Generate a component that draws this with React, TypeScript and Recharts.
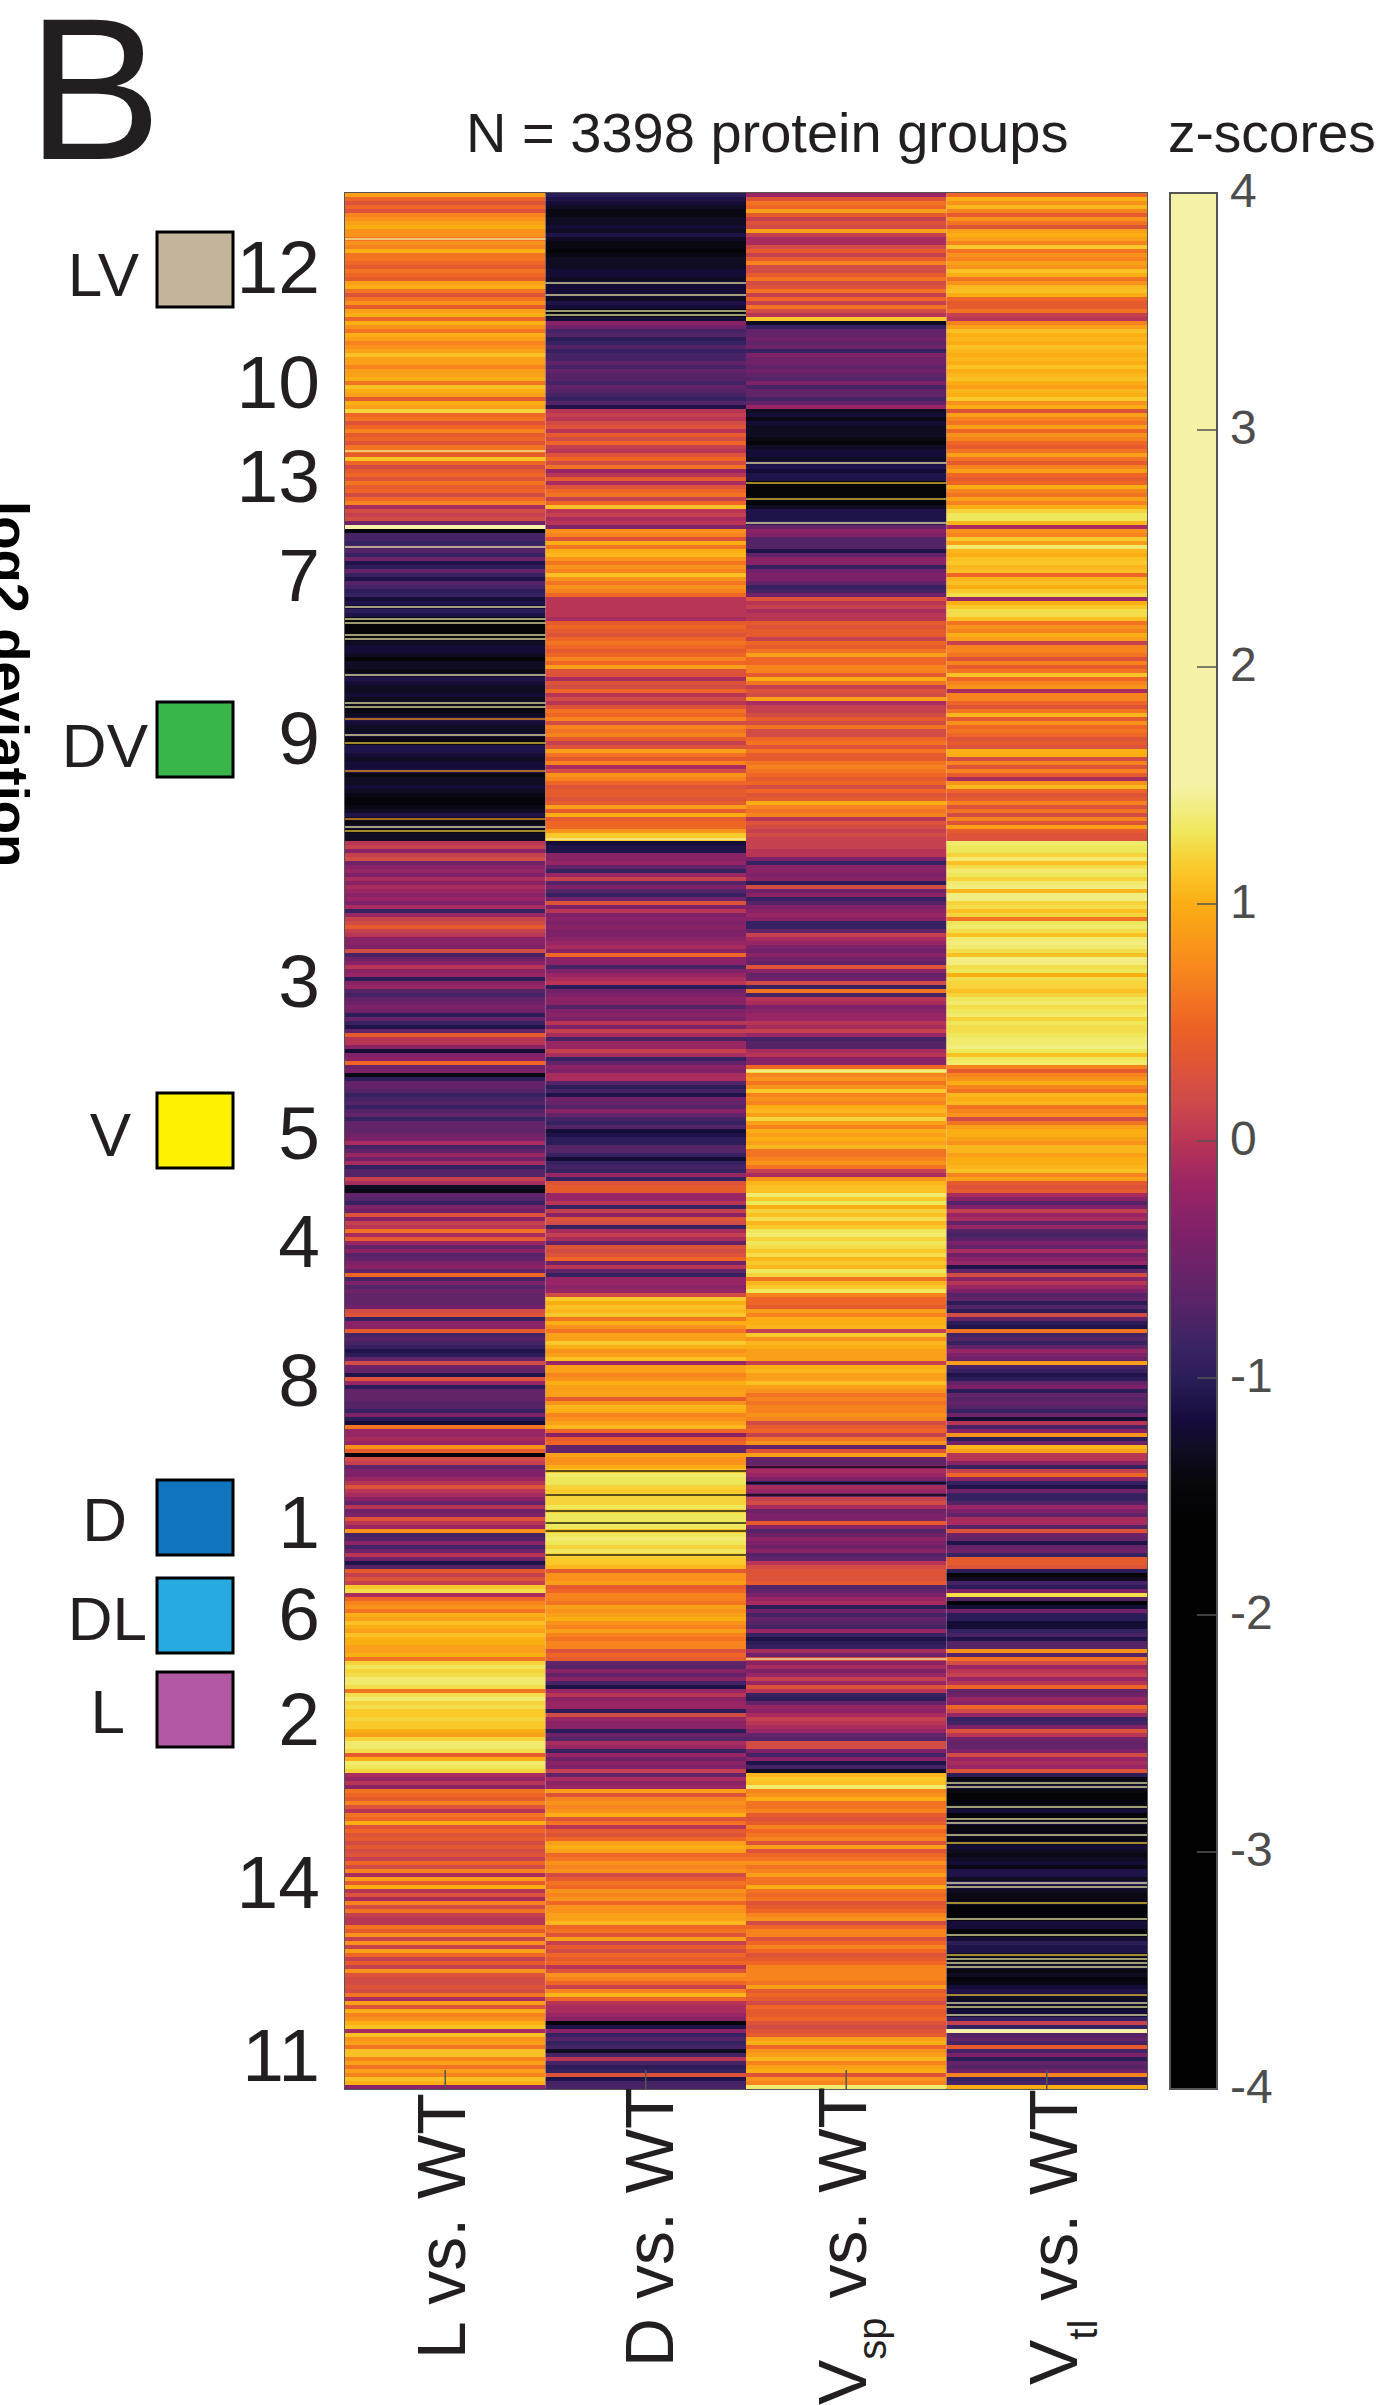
import { BarChart, Bar, Cell, XAxis, YAxis, ReferenceArea, ReferenceLine } from 'recharts';

const FONT = "'Liberation Sans', Arial, sans-serif";
const INK = '#231f20';
const AXIS = '#555555';

// cluster order top to bottom; each inner array below is one cluster (one row = about 7 protein groups)
const clusterIds = [12, 10, 13, 7, 9, 3, 5, 4, 8, 1, 6, 2, 14, 11];

const lVsWt = [
  [0.9,0.5,0.3,0.5,0.3,0.7,0.8,0.9,1.0,0.8,0.8,0.6,0.8,0.7,1.0,0.6,0.6,0.5,0.4,0.6,0.5,0.4,0.9,1.0,0.6,0.3,0.6,0.8,0.4,0.9,1.0,0.5],
  [1.0,0.8,0.6,1.0,0.9,0.7,0.8,0.9,1.1,0.9,0.9,0.7,0.9,0.9,1.0,0.6,1.1,1.0,0.9,0.4,1.0,0.9],
  [1.2,0.5,0.6,0.3,0.5,0.7,0.4,0.5,0.3,0.6,0.6,0.4,1.1,0.5,0.2,0.4,0.5,0.3,0.6,0.4,0.5,0.2,0.5,0.7,-0.1,0.2,0.1,0.2,-0.5,1.5],
  [-1.5,-0.8,-0.8,-0.9,-0.8,-0.7,-0.9,-0.5,-1.1,-1.0,-0.6,-0.9,-1.1,-0.7,-0.8,-1.0,-0.9],
  [-1.2,-1.1,-1.2,-1.0,-1.1,-1.4,-1.5,-1.5,-1.5,-1.4,-1.4,-1.3,-1.2,-1.2,-1.3,-1.5,-1.3,-1.3,-1.4,-1.2,-1.1,-1.2,-1.3,-1.3,-1.2,-1.3,-1.3,-1.4,-1.4,-1.3,-1.1,-1.2,-1.3,-1.3,-1.2,-1.4,-1.4,-1.1,-1.1,-1.2,-1.3,-1.2,-1.2,-1.1,-1.4,-1.3,-1.3,-1.2,-1.3,-1.4,-1.5,-1.5,-1.4,-1.3,-1.1,-1.3,-1.4,-1.2,-1.4,-1.3,-1.3],
  [0.0,0.1,-0.3,0.1,0.2,-0.5,-0.3,-0.2,-0.4,-0.1,-0.3,-0.1,-0.2,-0.3,-0.2,-0.4,-0.1,-0.9,-0.2,0.1,0.2,0.4,0.1,0.0,-0.3,-0.3,-0.4,0.2,-0.8,-0.5,-0.3,0.0,-0.3,-0.2,-1.0,-0.3,-0.2,-0.7,-0.8,-0.6,-0.5,-0.4,-0.5,-1.0,-0.6,-0.9,-1.1,-0.6,0.4,0.0,0.0,-0.3,-1.2,-0.4,-0.3,0.5,-0.5,-0.4],
  [-1.4,-1.0,-0.6,-0.6,-0.7,-0.9,-0.8,-0.7,-0.9,-0.7,-0.6,-0.9,-0.6,-0.6,-0.6,-0.5,-0.4,-0.1,-0.8,-0.6,-0.2,-0.5,-0.1,-0.9,-0.7,-0.7,0.1,-0.1,-1.3,-1.4],
  [-0.6,-0.7,-0.9,-0.4,-0.5,0.3,-0.3,0.1,0.0,0.6,-0.1,0.4,-0.2,-0.6,-0.3,-0.7,-0.6,-0.4,-0.3,-0.6,0.5,-0.8,-0.4,-0.7,-0.5,-0.6],
  [-0.6,-0.6,-0.5,0.2,0.3,-0.9,-0.3,-0.3,0.4,-0.8,-0.7,-0.8,-0.9,-1.1,-1.0,-0.6,0.2,-0.5,-0.6,-1.1,0.3,-0.2,-1.0,-0.6,-0.6,-0.6,-0.7,-0.7,-0.9,-0.4,-1.0,-1.2,0.6,-0.2,-0.2,-0.1,-0.2,0.8,0.4,-1.5],
  [0.2,0.1,-0.6,-0.4,-0.4,-0.2,0.0,0.3,0.0,-0.1,-0.3,-0.6,0.0,-0.5,-0.4,0.3,0.0,-0.2,0.8,-0.8,-0.7,-0.3,-0.8,-0.5,0.0,-0.5,-1.1,-0.7,0.4,0.1,0.3,0.1],
  [1.15,1.25,-0.1,0.5,0.7,0.8,0.6,1.0,0.9,1.1,1.0,0.9,1.1,1.0,1.0,0.9,0.9,1.0,0.6],
  [1.2,1.3,1.2,1.25,1.35,1.35,1.25,0.6,1.25,1.35,1.2,1.25,1.15,1.15,1.2,1.15,1.15,1.0,0.9,1.2,1.35,1.35,1.25,0.4,1.0,1.35,1.3,1.2],
  [-0.1,-0.2,0.0,-0.3,0.6,0.5,0.4,0.7,0.3,0.0,0.6,0.5,1.0,0.3,0.5,0.3,0.4,0.2,0.4,0.2,0.3,0.1,0.5,0.2,0.7,-0.1,0.9,0.4,1.0,0.0,0.3,-0.1,0.7,0.2,0.6,0.1,0.0,0.0,0.6,0.4,0.8,0.1,0.8,0.1,0.9,0.5,0.1,0.4,0.1,0.8,0.3,0.2,0.2,0.3,0.2,0.6,-0.1,0.9,0.3,1.0,0.7,0.8,1.0,1.1],
  [-0.1,1.1,0.8,0.9,0.6,1.1,1.1,0.7,0.9,0.6,0.9,0.7,1.1,1.0,-0.3],
];

const dVsWt = [
  [-1.0,-1.1,-1.2,-1.3,-1.4,-1.4,-1.3,-1.3,-1.2,-1.3,-1.1,-1.3,-1.4,-1.4,-1.5,-1.4,-1.3,-1.3,-1.3,-1.2,-1.2,-1.3,-1.2,-1.2,-1.2,-1.2,-1.3,-1.1,-1.2,-1.5,-1.4,-1.2],
  [-0.3,-0.5,-0.8,-0.7,-1.0,-0.9,-0.7,-0.9,-0.8,-0.8,-0.6,-0.8,-0.6,-0.7,-0.7,-0.8,-0.6,-0.7,-0.8,-0.9,-0.7,-1.1],
  [0.0,0.1,0.0,0.2,0.3,0.0,0.4,0.2,0.5,0.1,0.0,0.3,0.5,0.2,0.6,-0.2,0.0,0.4,-0.1,0.3,0.5,0.6,0.1,0.5,1.1,0.0,0.1,-0.1,0.0,-0.4],
  [0.8,0.7,0.3,1.0,0.6,1.0,1.05,0.8,0.6,0.8,0.7,1.1,0.8,0.6,0.8,0.7,0.5],
  [0.0,0.0,0.0,0.0,0.0,-0.1,0.4,0.5,0.4,0.3,0.5,0.6,0.5,0.4,0.5,0.7,0.5,0.9,0.3,0.3,-0.1,0.3,0.2,0.5,0.0,0.2,0.0,0.3,0.6,0.5,0.7,0.2,0.7,0.6,0.7,0.4,0.1,0.3,0.9,0.6,0.4,0.7,-0.1,0.2,0.8,0.7,0.5,0.3,0.4,0.4,0.3,0.4,0.9,0.4,1.0,0.4,0.5,0.5,0.8,1.15,1.15],
  [-1.2,-1.1,-1.1,-0.3,-0.3,-0.2,-0.6,-0.9,-0.2,0.1,-0.7,-0.4,-0.7,-0.9,-0.5,0.3,-0.4,0.0,-0.4,-0.3,-0.4,-0.3,-0.4,-0.4,-0.3,-0.2,-0.1,-0.3,0.5,-0.3,-0.3,-0.8,-0.4,-0.2,-0.1,0.0,-1.0,-0.5,-0.4,-0.3,-0.3,-0.7,-0.4,-0.3,-0.4,0.0,-0.4,0.1,-0.1,-0.8,-0.2,-0.2,0.1,-0.1,-0.9,-0.6,-0.3,-0.4],
  [-0.1,-0.1,-0.7,-1.0,-0.8,-1.1,-0.5,-0.6,-0.7,-0.3,-0.6,-0.8,-0.9,-0.7,-1.2,-1.1,-1.0,-1.0,-0.7,-0.7,-0.9,-1.2,-0.9,-0.8,-0.9,-0.2,-0.9,0.3,0.4,0.4],
  [-0.2,-0.2,0.0,-0.9,0.1,-0.3,0.3,0.2,-0.9,-0.1,0.1,-0.1,-0.6,0.3,0.2,0.3,0.5,-0.5,0.0,-0.6,-0.9,-0.2,-0.2,-0.3,-0.2,0.2],
  [1.15,1.0,1.1,1.05,1.15,0.6,1.0,0.8,0.6,0.9,0.9,1.15,1.0,0.8,0.9,1.1,-0.2,0.9,0.9,0.7,0.8,1.0,0.9,0.9,0.9,0.4,0.8,1.05,1.0,0.7,0.8,0.9,1.05,0.5,-0.3,0.4,0.5,-0.6,-0.6,0.9],
  [0.8,0.8,1.0,1.15,1.35,1.3,1.3,1.2,1.15,1.2,1.2,1.2,1.3,1.2,1.3,1.3,1.3,1.3,1.15,1.3,1.35,1.3,1.2,1.3,1.2,1.15,1.15,1.05,0.4,0.8,0.8,0.9],
  [0.4,0.5,0.7,0.7,0.6,0.9,0.8,0.9,1.0,0.8,0.7,0.9,0.7,0.6,0.7,0.7,0.3,0.5,0.4],
  [-0.6,-0.7,-0.3,-0.6,-0.3,-0.8,-1.1,-0.2,0.0,-0.3,-0.2,-0.2,-1.0,0.2,-0.2,-0.3,-0.3,-1.0,-0.5,-0.7,-0.1,-0.2,-0.9,-0.2,-0.5,-0.3,-0.4,0.1],
  [-0.6,-0.1,-0.3,-0.2,0.9,0.3,0.7,0.8,0.7,0.8,1.0,0.3,0.6,0.0,0.4,0.3,0.5,0.9,1.0,0.9,0.5,0.6,0.8,0.7,0.8,0.2,0.4,0.6,0.5,0.8,0.7,0.8,0.5,0.8,0.8,0.9,0.9,1.05,0.5,0.6,0.3,0.9,0.1,0.4,0.2,0.5,0.4,0.5,0.0,0.3,0.8,0.7,0.5,0.1,0.7,1.05,0.5,0.0,-0.1,-0.1,-0.2,-0.3,-1.5,-1.1],
  [-0.3,-0.9,-0.7,-0.9,-0.8,-1.3,-0.8,0.0,-0.8,-1.0,-0.9,0.3,-1.1,-0.8,-0.8],
];

const vspVsWt = [
  [-0.2,0.3,0.6,0.5,0.9,0.4,0.1,0.3,0.2,0.9,0.1,-0.1,-0.1,0.2,0.4,0.1,0.4,0.7,0.2,0.2,0.4,0.6,0.2,0.3,0.6,0.1,0.5,0.1,0.6,0.2,0.0,1.15],
  [-1.3,-0.9,-0.6,-0.6,-0.5,-0.6,-0.5,-0.9,-0.4,-0.5,-0.5,-0.6,-0.5,-0.6,-0.7,-0.4,-0.8,-0.6,-0.6,-0.8,-0.6,-0.2],
  [-1.3,-1.2,-1.4,-1.2,-1.3,-1.3,-1.3,-1.4,-1.5,-1.3,-1.2,-1.2,-1.3,-1.1,-1.1,-1.2,-1.1,-1.1,-1.5,-1.5,-1.5,-1.5,-1.4,-1.5,-1.3,-1.1,-1.1,-1.1,-1.0,-0.6],
  [-0.3,-0.4,-0.7,-0.7,-0.7,-1.1,-0.6,-0.3,-0.3,-0.9,-0.5,-0.4,-0.4,-0.6,-0.9,-0.8,-0.5],
  [0.3,0.0,0.1,-0.1,0.0,0.0,0.4,0.3,0.4,0.4,0.1,0.5,0.4,0.6,0.9,0.5,0.5,0.7,0.7,0.4,1.0,0.6,0.1,0.3,0.2,0.9,-0.1,0.1,0.1,0.2,0.4,0.2,0.6,0.2,0.2,0.5,0.6,0.3,0.6,0.4,0.4,0.6,0.7,0.6,0.5,0.4,0.5,0.2,0.5,0.3,0.4,1.0,0.7,0.6,0.7,0.0,0.3,0.2,0.1,0.2,0.1],
  [0.1,0.1,0.0,0.0,-0.4,-0.9,-0.3,-0.3,-0.4,-0.3,-1.0,0.2,-0.5,-0.3,-0.9,-0.7,-0.4,-0.3,-0.2,-0.3,-0.9,-0.9,-0.6,0.1,-0.1,-0.2,-0.4,-0.5,-0.3,-0.5,-0.6,0.3,-0.3,-0.6,-0.5,0.2,-0.9,0.6,-0.8,0.0,-0.1,-0.4,-0.3,-0.2,-0.2,0.0,-0.1,0.1,-0.2,-0.8,-0.7,-0.7,-0.1,0.0,-0.3,-0.3,0.5,1.25],
  [0.7,0.8,0.6,0.8,1.15,0.7,0.8,0.7,1.0,1.05,0.9,1.2,0.9,0.7,1.0,0.9,1.0,0.9,1.05,0.6,0.6,0.7,0.8,0.6,0.1,-0.1,0.8,1.05,1.1,1.1],
  [1.35,1.15,1.3,1.0,1.2,1.1,1.25,1.05,1.15,1.3,1.35,1.2,1.3,1.25,1.15,1.25,1.05,1.15,1.05,1.3,1.2,0.6,1.05,1.15,1.3,0.7],
  [0.5,0.5,0.4,0.9,0.7,1.0,1.0,1.05,0.1,1.15,0.8,1.05,1.0,0.9,0.9,0.9,0.1,1.0,1.05,0.9,0.9,1.1,0.9,0.8,0.6,0.7,0.6,0.7,0.7,0.8,0.7,0.2,0.4,0.5,0.1,0.6,0.8,-0.6,0.3,0.9],
  [-0.6,-0.6,-0.4,-0.1,-0.2,-0.4,-0.9,-0.1,-0.2,-0.6,0.1,0.2,-0.1,-0.5,-0.4,-0.4,0.4,-0.3,-0.7,-0.5,-0.3,-0.4,-0.5,-0.3,-0.7,-0.6,0.0,0.2,0.3,0.3,0.3,0.4],
  [-0.7,-0.6,-0.4,-0.2,-0.1,-1.0,-0.5,-0.8,-0.6,-0.7,-0.8,-0.2,-0.9,-1.1,-1.0,-0.9,-0.1,-0.5,0.2],
  [-0.3,-0.1,-0.4,-0.2,0.1,-0.2,0.3,0.0,-0.9,-1.0,-0.6,-0.2,-0.3,-0.1,0.1,0.0,-0.1,-0.2,-0.6,-0.7,0.2,0.2,-0.4,-0.8,-0.3,-1.1,-0.8,-1.3],
  [1.05,1.15,1.1,1.35,0.7,0.8,1.0,0.6,0.6,0.7,0.4,0.3,0.4,0.7,0.5,0.6,0.7,0.3,0.9,0.3,0.5,0.6,0.8,0.6,0.7,0.9,0.6,0.6,1.0,0.6,0.5,0.6,0.3,0.4,0.5,0.7,0.8,0.2,0.5,0.7,0.7,0.3,0.5,0.7,0.5,0.3,0.4,0.5,0.7,0.7,0.7,0.7,0.6,0.9,0.4,0.5,0.4,0.2,0.5,0.4,0.4,0.5,0.3,0.2],
  [0.3,0.4,0.9,1.0,0.5,0.8,0.9,1.05,0.7,0.9,1.0,0.3,0.8,0.7,1.35],
];

const vtlVsWt = [
  [0.5,1.0,0.8,1.05,0.7,0.4,0.8,0.6,0.3,0.9,1.0,0.9,0.7,1.15,0.6,0.8,0.7,0.9,0.8,1.1,1.0,0.6,0.8,1.05,1.1,1.0,0.5,0.4,0.4,0.6,0.1,0.0],
  [0.7,0.9,1.1,1.0,1.05,1.0,1.1,1.05,1.0,1.05,1.0,1.1,1.0,1.05,1.1,1.0,0.9,1.05,1.0,1.15,0.8,1.0],
  [0.3,0.9,0.7,0.6,0.9,0.5,0.8,0.7,0.5,0.4,0.6,0.9,0.6,0.4,0.7,0.9,0.5,0.4,0.5,1.0,0.7,0.6,0.9,0.7,1.0,1.2,1.3,1.3,1.05,-0.1],
  [0.8,0.7,1.15,0.9,1.35,1.05,1.0,1.1,1.15,1.05,1.1,0.5,1.05,1.1,1.0,1.15,1.25],
  [-0.2,1.0,1.15,1.25,1.25,1.1,0.6,0.8,0.7,1.0,0.9,0.1,0.7,0.7,0.6,0.3,0.7,0.4,0.6,1.1,0.5,0.7,0.8,-0.1,0.7,0.7,0.5,0.3,0.6,1.05,0.4,0.8,0.5,0.6,0.5,0.3,0.4,0.3,1.0,1.0,0.2,0.7,0.3,0.7,0.4,-0.1,0.8,1.05,0.5,0.3,0.4,0.7,0.3,0.6,0.2,0.7,0.3,0.9,0.4,0.3,0.3],
  [1.35,1.3,1.3,1.2,1.35,1.1,1.25,1.35,1.3,1.2,1.35,1.4,1.05,1.4,1.4,1.2,1.25,1.1,1.2,0.6,1.3,1.35,1.25,1.1,1.35,1.4,1.35,1.25,1.1,1.4,1.4,1.25,1.3,1.0,1.25,1.2,1.2,1.1,1.2,1.3,1.35,1.25,1.3,1.35,1.2,1.3,1.25,1.25,1.3,1.35,1.35,1.4,1.3,1.1,1.3,1.35,0.7,0.4],
  [0.7,0.8,1.0,0.7,0.6,1.05,1.0,1.05,0.6,0.7,0.8,0.2,0.6,0.9,1.0,1.0,0.9,0.8,1.05,1.05,0.9,1.0,1.0,1.05,1.1,0.7,0.9,0.4,0.3,0.4],
  [-0.1,-0.3,-0.7,-0.4,0.1,-0.2,-0.1,-0.6,-0.2,-0.7,-0.8,-0.7,-0.4,-0.6,-0.1,-0.5,-0.3,-0.2,-1.1,-0.6,0.2,-0.3,0.0,-0.2,-0.4,-0.7],
  [-0.6,-1.0,-0.7,-1.0,0.2,-0.6,-1.0,-1.1,0.6,-0.8,-0.7,-0.9,-0.6,-0.2,-0.4,-0.5,0.9,-0.8,-0.9,-1.1,-1.0,-0.6,-0.4,-1.0,-0.6,-0.7,-0.6,-0.7,-0.9,-0.5,-1.2,0.0,-0.8,-0.3,0.8,-1.0,-0.5,1.05,0.9,0.0],
  [0.0,-0.3,-0.9,0.1,0.5,-0.3,-0.9,-1.1,-0.5,-0.9,-0.9,-0.7,-0.2,-0.4,-0.6,-0.1,-0.1,-0.7,0.3,-0.5,-0.6,-1.1,-0.6,-0.5,-0.9,0.4,0.4,0.3,-1.0,-1.5,-1.3,-0.8],
  [-1.0,-0.4,1.25,-0.7,-1.5,-1.2,-0.5,-1.0,-1.0,-1.2,-1.2,-0.9,-0.8,-1.1,-0.7,-0.7,0.8,-0.7,0.6],
  [0.2,-0.2,0.0,0.1,-0.2,0.0,0.5,-0.6,-0.5,-0.2,-0.3,0.5,0.2,-0.2,-0.9,-0.8,-0.4,0.3,0.0,-0.5,-0.6,-0.6,-0.4,0.2,-0.2,-0.1,-0.2,0.3],
  [-1.0,-1.4,-1.3,-1.2,-1.4,-1.5,-1.5,-1.5,-1.3,-1.2,-1.5,-1.5,-1.2,-1.4,-1.4,-1.3,-1.4,-1.3,-1.2,-1.3,-1.4,-1.3,-1.2,-1.4,-1.1,-1.1,-1.3,-1.0,-1.2,-1.3,-1.4,-1.4,-1.3,-1.5,-1.5,-1.5,-1.4,-1.2,-1.2,-1.5,-1.4,-1.2,-1.0,-1.1,-1.1,-1.3,-1.4,-1.3,-1.2,-1.4,-1.3,-1.5,-1.4,-1.2,-1.1,-1.2,-1.3,-1.2,-1.3,-1.2,-1.2,-0.9,0.1,-0.9],
  [1.6,-0.7,-0.6,-0.8,0.4,-0.8,-0.4,-1.0,-0.6,-0.7,-0.5,0.7,-0.9,-0.8,1.0],
];

// hairline stripes thinner than one heatmap row: column index, row index, z-score
const hairColumn = [0,0,0,0,0,0,0,0,0,0,0,0,0,0,0,0,1,1,1,1,2,2,2,2,1,1,1,1,1,1,2,2,2,2,3,3,3,3,3,3,3,3,3,3,3,3,3,3,3,3,3,3,3,3,0,0,1,2];
const hairRow = [88,103,106,107,110,111,120,127,128,131,135,137,144,156,158,159,22,25,29,30,67,72,76,82,319,325,329,332,334,340,318,322,325,366,397,398,403,406,407,410,412,422,423,427,431,435,440,441,442,443,450,452,453,455,11,64,161,219];
const hairZ = [1.5,1.5,1.5,1.5,1.5,2,1.5,2,1.5,0.9,2,1.2,0.9,0.9,1.5,1.2,1.5,2,2,1.5,1.5,1.2,1.2,1.5,-2,-2,-2,-2,-2,-2,-2,-2,-2,2,1.5,2,1.5,1.5,2,1.5,1.2,1.5,2,1.2,1.5,1.5,1.2,2,1.5,1.5,1.2,1.5,1.5,1.5,2,2,1.5,1.5];

// colour scale
const scaleZ = [-4, -1.6, -1.44, -1.3, -1.17, -1, -0.88, -0.67, -0.39, -0.18, 0, 0.17, 0.46, 0.73, 1, 1.16, 1.3, 1.5, 4];
const scaleColors = ['#020203', '#020203', '#07070c', '#100c22', '#180c3e', '#2c1d58', '#382362', '#5a2468', '#7e2168', '#9b2564', '#b93556', '#cf4a4a', '#ec5f26', '#f8881e', '#fbad14', '#f9cb2d', '#efe75a', '#f5f2a5', '#f5f2a5'];
const colorbarTicks = [-4, -3, -2, -1, 0, 1, 2, 3, 4];

// annotations around the heatmap
const clusterBaselines = [293, 408, 502, 601, 764, 1007, 1159, 1267, 1406, 1548, 1640, 1745, 1908, 2081];
const legendNames = ['LV', 'DV', 'V', 'D', 'DL', 'L'];
const legendColors = ['#c2b59b', '#39b54a', '#fff200', '#1075bc', '#27aae1', '#b259a3'];
const legendTops = [232, 702, 1093, 1480, 1578, 1672];
const legendTextEnd = [139, 148, 131, 127, 147, 125];
const legendBaselines = [296, 767, 1156, 1541, 1640, 1733];

const columnCentres = [0.5, 1.5, 2.5, 3.5];
const labelStarts = [2359, 2367, 2405, 2385];
const labelOffsets = [20, 27, 20, 30];
const labelParts = [['L', '', ' vs. WT'], ['D', '', ' vs. WT'], ['V', 'sp', ' vs. WT'], ['V', 'tl', ' vs. WT']];

function hex(c: string) {
  return [1, 3, 5].map(i => parseInt(c.slice(i, i + 2), 16));
}

function zColor(z: number) {
  if (z <= scaleZ[0]) return scaleColors[0];
  for (let i = 1; i < scaleZ.length; i++) {
    if (z <= scaleZ[i]) {
      const t = (z - scaleZ[i - 1]) / (scaleZ[i] - scaleZ[i - 1]);
      const a = hex(scaleColors[i - 1]);
      const b = hex(scaleColors[i]);
      return `rgb(${a.map((v, k) => Math.round(v + (b[k] - v) * t)).join(',')})`;
    }
  }
  return scaleColors[scaleColors.length - 1];
}

const flatColumns = [lVsWt, dVsWt, vspVsWt, vtlVsWt].map(col => col.flat());
const rows = flatColumns[0].map((_, i) => ({ row: i, w0: 1, w1: 1, w2: 1, w3: 1 }));
const colorbarData = [{ name: 'z', range: [-4, 4] }];

function ColumnLabel(props: any) {
  const i = props.index;
  const x = props.x + labelOffsets[i];
  const y = labelStarts[i];
  const [head, sub, tail] = labelParts[i];
  return (
    <text transform={`rotate(-90 ${x} ${y})`} x={x} y={y} fontSize={68} fontFamily={FONT} fill={INK}>
      {head}
      {sub ? <tspan dy={20} fontSize={40}>{sub}</tspan> : null}
      <tspan dy={sub ? -20 : 0}>{tail}</tspan>
    </text>
  );
}

function ZTick(props: any) {
  return (
    <text x={props.x} y={props.y - 3} dominantBaseline="central" fontSize={48} fontFamily={FONT} fill="#4d4d4d">
      {props.payload.value}
    </text>
  );
}

export default function App() {
  return (
    <div style={{ position: 'absolute', left: 0, top: 0, width: 1377, height: 2405, overflow: 'hidden', background: '#fff' }}>
      <div style={{ position: 'absolute', left: 0, top: 0 }}>
        <BarChart
          width={1377}
          height={2405}
          layout="vertical"
          data={rows}
          barCategoryGap={0}
          margin={{ top: 192, right: 230, bottom: 315, left: 345 }}
        >
          <YAxis type="category" dataKey="row" hide width={0} />
          {flatColumns.map((values, c) => (
            <Bar key={c} dataKey={`w${c}`} stackId="heat" isAnimationActive={false}>
              {values.map((z, i) => <Cell key={i} fill={zColor(z)} />)}
            </Bar>
          ))}
          {hairRow.map((r, i) => (
            <ReferenceLine
              key={i}
              segment={[{ x: hairColumn[i], y: r }, { x: hairColumn[i] + 1, y: r }]}
              stroke={zColor(hairZ[i])}
              strokeWidth={1.5}
              strokeOpacity={0.85}
            />
          ))}
          <ReferenceArea x1={0} x2={4} fill="none" stroke={AXIS} strokeWidth={2} ifOverflow="visible" />
          <XAxis
            type="number"
            domain={[0, 4]}
            ticks={columnCentres}
            height={1}
            axisLine={false}
            tickSize={-19}
            tickLine={{ stroke: AXIS, strokeWidth: 1.5 }}
            tick={ColumnLabel}
            interval={0}
          />
          <XAxis
            xAxisId="top"
            orientation="top"
            type="number"
            domain={[0, 4]}
            ticks={columnCentres}
            height={1}
            axisLine={false}
            tickSize={-19}
            tickLine={{ stroke: AXIS, strokeWidth: 1.5 }}
            tick={false}
            interval={0}
          />
        </BarChart>
      </div>
      <div style={{ position: 'absolute', left: 0, top: 0 }}>
        <BarChart
          width={1377}
          height={2405}
          data={colorbarData}
          barCategoryGap={0}
          margin={{ top: 193, right: 159, bottom: 316, left: 1170 }}
        >
          <defs>
            <linearGradient id="zscale" x1="0" y1="0" x2="0" y2="1">
              {scaleZ.map((z, i) => ({ z, color: scaleColors[i] })).reverse().map(s => (
                <stop key={s.z} offset={(4 - s.z) / 8} stopColor={s.color} />
              ))}
            </linearGradient>
          </defs>
          <XAxis dataKey="name" hide height={0} />
          <Bar dataKey="range" fill="url(#zscale)" stroke={AXIS} strokeWidth={2} isAnimationActive={false} />
          <YAxis
            orientation="right"
            type="number"
            domain={[-4, 4]}
            ticks={colorbarTicks}
            width={1}
            axisLine={false}
            interval={0}
            tickSize={-20}
            tickMargin={33}
            tickLine={{ stroke: AXIS, strokeWidth: 1.5 }}
            tick={ZTick}
          />
        </BarChart>
      </div>
      <svg width={1377} height={2405} style={{ position: 'absolute', left: 0, top: 0, pointerEvents: 'none' }} fontFamily={FONT} fill={INK}>
        <text x={27} y={159} fontSize={202}>B</text>
        <text x={466} y={152} fontSize={56}>N = 3398 protein groups</text>
        <text x={1168} y={152} fontSize={55}>z-scores</text>
        <text transform="rotate(90 -9 501)" x={-9} y={501} fontSize={54.5} fontWeight="bold" fill="#000">log2 deviation</text>
        {clusterIds.map((id, i) => (
          <text key={id} x={320} y={clusterBaselines[i]} fontSize={75} textAnchor="end">{id}</text>
        ))}
        {legendNames.map((name, i) => (
          <g key={name}>
            <text x={legendTextEnd[i]} y={legendBaselines[i]} fontSize={62} textAnchor="end">{name}</text>
            <rect x={157} y={legendTops[i]} width={76} height={75} fill={legendColors[i]} stroke="#000" strokeWidth={3} />
          </g>
        ))}
      </svg>
    </div>
  );
}
